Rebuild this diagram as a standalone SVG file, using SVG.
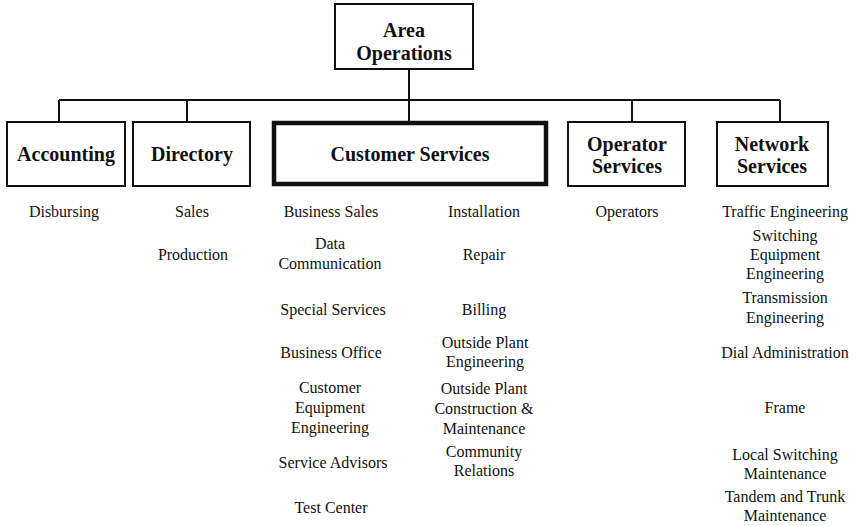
<svg xmlns="http://www.w3.org/2000/svg" width="859" height="526" viewBox="0 0 859 526">
  <style>
    .box { fill: #fff; stroke: #111; stroke-width: 2; }
    .box.main { stroke-width: 4.5; }
    .title { font-family: "Liberation Serif", "Times New Roman", serif; font-weight: bold; font-size: 20px; fill: #111; text-anchor: middle; }
    .item { font-family: "Liberation Serif", "Times New Roman", serif; font-size: 16px; fill: #111; text-anchor: middle; }
    .link { fill: none; stroke: #111; stroke-width: 2; }
  </style>
  <rect width="859" height="526" fill="#fff"/>

  <!-- connectors -->
  <g id="connectors">
    <path class="link" d="M409,69 V122"/>
    <path class="link" d="M59,100 H780"/>
    <path class="link" d="M59,100 V122"/>
    <path class="link" d="M187,100 V122"/>
    <path class="link" d="M632,100 V122"/>
    <path class="link" d="M780,100 V122"/>
  </g>

  <!-- top node -->
  <g id="area-operations">
    <rect class="box" x="335" y="4" width="138" height="65"/>
    <text class="title" x="404" y="37">Area</text>
    <text class="title" x="404" y="60">Operations</text>
  </g>

  <!-- departments -->
  <g id="accounting">
    <rect class="box" x="7" y="122" width="118" height="64"/>
    <text class="title" x="66" y="161">Accounting</text>
    <text class="item" x="64" y="217">Disbursing</text>
  </g>

  <g id="directory">
    <rect class="box" x="133" y="122" width="117" height="64"/>
    <text class="title" x="192" y="161">Directory</text>
    <text class="item" x="192" y="217">Sales</text>
    <text class="item" x="193" y="260">Production</text>
  </g>

  <g id="customer-services">
    <rect class="box main" x="274" y="123" width="272" height="61"/>
    <text class="title" x="410" y="161">Customer Services</text>
    <!-- left column -->
    <text class="item" x="331" y="217">Business Sales</text>
    <text class="item" x="330" y="249">Data</text>
    <text class="item" x="330" y="269">Communication</text>
    <text class="item" x="333" y="315">Special Services</text>
    <text class="item" x="331" y="358">Business Office</text>
    <text class="item" x="330" y="393">Customer</text>
    <text class="item" x="330" y="413">Equipment</text>
    <text class="item" x="330" y="433">Engineering</text>
    <text class="item" x="333" y="468">Service Advisors</text>
    <text class="item" x="331" y="513">Test Center</text>
    <!-- right column -->
    <text class="item" x="484" y="217">Installation</text>
    <text class="item" x="484" y="260">Repair</text>
    <text class="item" x="484" y="315">Billing</text>
    <text class="item" x="485" y="348">Outside Plant</text>
    <text class="item" x="485" y="367">Engineering</text>
    <text class="item" x="484" y="394">Outside Plant</text>
    <text class="item" x="484" y="414">Construction &amp;</text>
    <text class="item" x="484" y="434">Maintenance</text>
    <text class="item" x="484" y="457">Community</text>
    <text class="item" x="484" y="476">Relations</text>
  </g>

  <g id="operator-services">
    <rect class="box" x="568" y="122" width="117" height="64"/>
    <text class="title" x="627" y="151">Operator</text>
    <text class="title" x="627" y="173">Services</text>
    <text class="item" x="627" y="217">Operators</text>
  </g>

  <g id="network-services">
    <rect class="box" x="717" y="122" width="111" height="64"/>
    <text class="title" x="772" y="151">Network</text>
    <text class="title" x="772" y="173">Services</text>
    <text class="item" x="785" y="217">Traffic Engineering</text>
    <text class="item" x="785" y="241">Switching</text>
    <text class="item" x="785" y="260">Equipment</text>
    <text class="item" x="785" y="279">Engineering</text>
    <text class="item" x="785" y="303">Transmission</text>
    <text class="item" x="785" y="323">Engineering</text>
    <text class="item" x="785" y="358">Dial Administration</text>
    <text class="item" x="785" y="413">Frame</text>
    <text class="item" x="785" y="460">Local Switching</text>
    <text class="item" x="785" y="479">Maintenance</text>
    <text class="item" x="785" y="502">Tandem and Trunk</text>
    <text class="item" x="785" y="521">Maintenance</text>
  </g>
</svg>
